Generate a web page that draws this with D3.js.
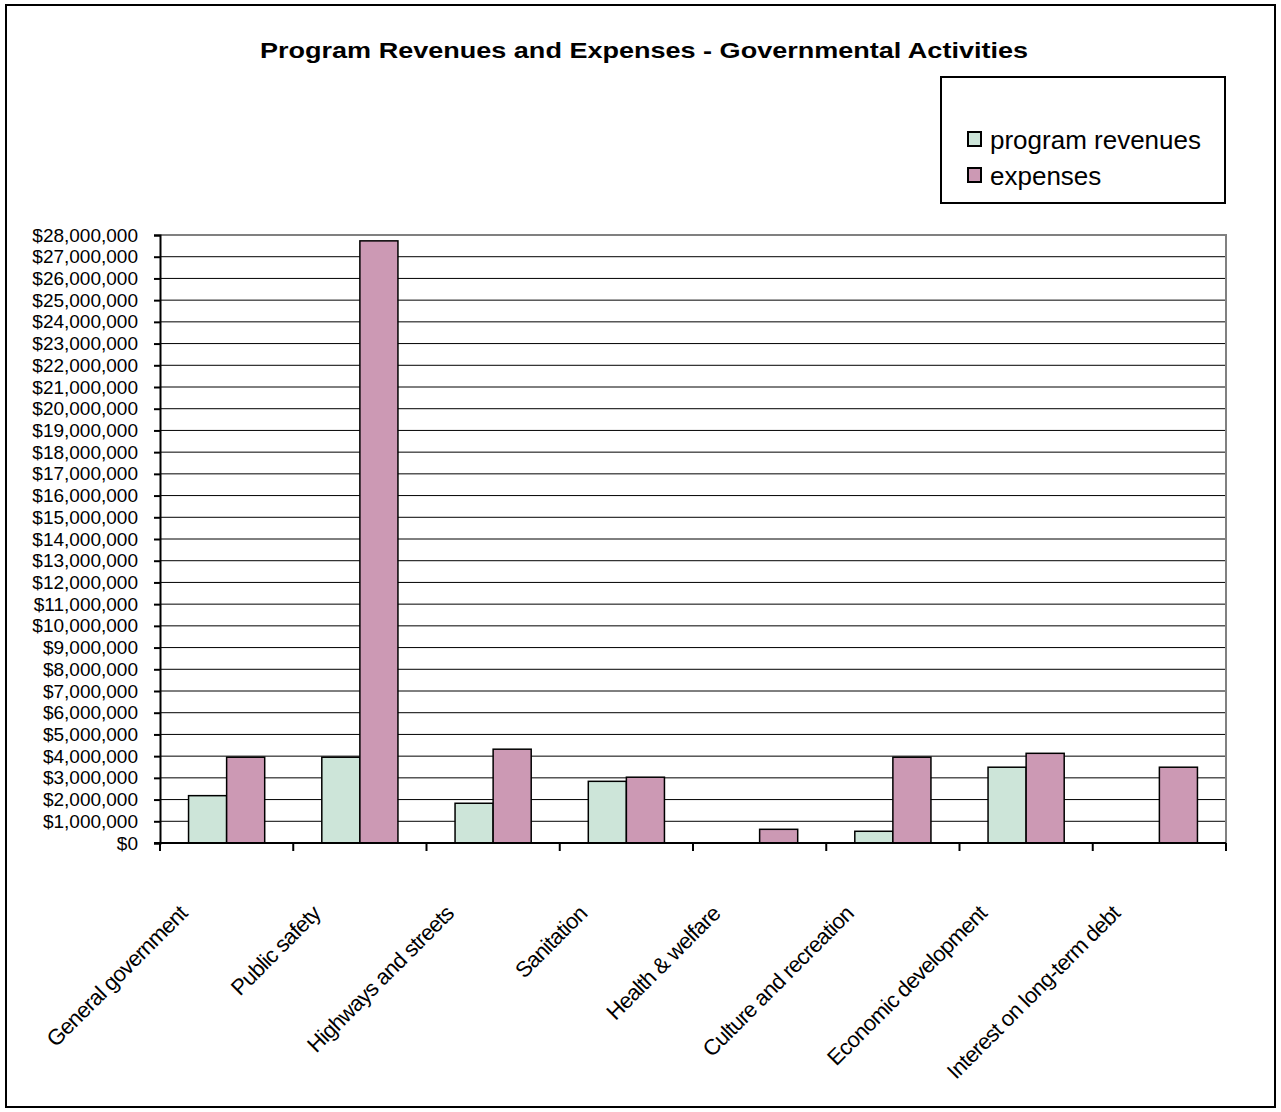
<!DOCTYPE html>
<html>
<head>
<meta charset="utf-8">
<script src="https://cdn.jsdelivr.net/npm/d3@7"></script>
<style>
  html, body { margin: 0; padding: 0; background: #fff; }
  svg { display: block; }
  text { font-family: "Liberation Sans", Arial, sans-serif; fill: #000; }
</style>
</head>
<body>
<svg id="chart" width="1281" height="1112"></svg>
<script>
// Program revenues vs. expenses by governmental function (USD)
const categories = [
  "General government",
  "Public safety",
  "Highways and streets",
  "Sanitation",
  "Health & welfare",
  "Culture and recreation",
  "Economic development",
  "Interest on long-term debt"
];
const seriesNames = ["program revenues", "expenses"];
const programRevenues = [2180000, 3950000, 1830000, 2840000, 0, 540000, 3490000, 0];
const expenses = [3950000, 27730000, 4320000, 3030000, 630000, 3950000, 4130000, 3490000];
const yTicks = d3.range(0, 28000001, 1000000);

const colors = { "program revenues": "#cde5d9", "expenses": "#cc99b4" };

const svg = d3.select("#chart");
const W = 1281, H = 1112;
const plot = { left: 160, right: 1226, top: 235, bottom: 843 };

// chart frame
svg.append("rect")
  .attr("x", 6).attr("y", 5).attr("width", W - 12).attr("height", H - 10)
  .attr("fill", "#fff").attr("stroke", "#000").attr("stroke-width", 2);

// title
const title = svg.append("text")
  .attr("x", 644).attr("y", 58)
  .attr("text-anchor", "middle")
  .style("font-size", "22px").style("font-weight", "bold")
  .text("Program Revenues and Expenses - Governmental Activities");
title.attr("textLength", 768).attr("lengthAdjust", "spacingAndGlyphs");

// scales
const x0 = d3.scaleBand().domain(categories).range([plot.left, plot.right]).padding(0);
const x1 = d3.scaleBand().domain(seriesNames).range([0, x0.bandwidth()])
  .paddingInner(0).paddingOuter(0.75);
const y = d3.scaleLinear().domain([0, 28000000]).range([plot.bottom, plot.top]);

// gridlines
svg.append("g").selectAll("line")
  .data(yTicks.filter(v => v > 0 && v < 28000000))
  .join("line")
  .attr("x1", plot.left).attr("x2", plot.right)
  .attr("y1", d => y(d)).attr("y2", d => y(d))
  .attr("stroke", "#000").attr("stroke-width", 1);

// plot area top/right border
svg.append("path")
  .attr("d", `M${plot.left},${y(28000000)}H${plot.right}V${plot.bottom}`)
  .attr("fill", "none").attr("stroke", "#808080").attr("stroke-width", 2);

// bars
const rows = categories.map((c, i) => ({
  category: c,
  values: [
    { key: "program revenues", value: programRevenues[i] },
    { key: "expenses", value: expenses[i] }
  ]
}));

const groups = svg.append("g").selectAll("g")
  .data(rows).join("g")
  .attr("transform", d => `translate(${x0(d.category)},0)`);

groups.selectAll("rect")
  .data(d => d.values.filter(v => v.value > 0))
  .join("rect")
  .attr("x", d => x1(d.key))
  .attr("width", x1.bandwidth())
  .attr("y", d => y(d.value))
  .attr("height", d => y(0) - y(d.value))
  .attr("fill", d => colors[d.key])
  .attr("stroke", "#000").attr("stroke-width", 1.5);

// y axis
const yAxis = svg.append("g")
  .attr("transform", `translate(${plot.left},0)`)
  .call(d3.axisLeft(y).tickValues(yTicks).tickSize(6).tickPadding(16)
    .tickFormat(v => "$" + d3.format(",")(v)));
yAxis.select(".domain").attr("stroke", "#000").attr("stroke-width", 2);
yAxis.selectAll(".tick line").attr("stroke", "#000").attr("stroke-width", 2);
yAxis.selectAll(".tick text")
  .style("font-size", "19px").attr("fill", "#000");

// x axis
const xAxis = svg.append("g")
  .attr("transform", `translate(0,${plot.bottom})`);
xAxis.append("line")
  .attr("x1", plot.left - 6).attr("x2", plot.right)
  .attr("y1", 0).attr("y2", 0)
  .attr("stroke", "#000").attr("stroke-width", 2);
const boundaries = categories.map(c => x0(c)).concat([plot.right]);
xAxis.selectAll("line.tick")
  .data(boundaries).join("line")
  .attr("class", "tick")
  .attr("x1", d => d).attr("x2", d => d)
  .attr("y1", 0).attr("y2", 8)
  .attr("stroke", "#000").attr("stroke-width", 2);

xAxis.selectAll("text")
  .data(categories).join("text")
  .attr("transform", d => `translate(${x0(d) + x0.bandwidth() / 2 - 38},${72}) rotate(-45)`)
  .attr("text-anchor", "end")
  .style("font-size", "22px")
  .style("letter-spacing", "-0.7px")
  .text(d => d);

// legend
const legend = svg.append("g");
legend.append("rect")
  .attr("x", 941).attr("y", 77).attr("width", 284).attr("height", 126)
  .attr("fill", "#fff").attr("stroke", "#000").attr("stroke-width", 2);
const legendY = [149, 185];
seriesNames.forEach((s, i) => {
  legend.append("rect")
    .attr("x", 968).attr("y", legendY[i] - 17).attr("width", 13).attr("height", 14)
    .attr("fill", colors[s]).attr("stroke", "#000").attr("stroke-width", 2);
  legend.append("text")
    .attr("x", 990).attr("y", legendY[i])
    .style("font-size", "26px")
    .text(s);
});
</script>
</body>
</html>
